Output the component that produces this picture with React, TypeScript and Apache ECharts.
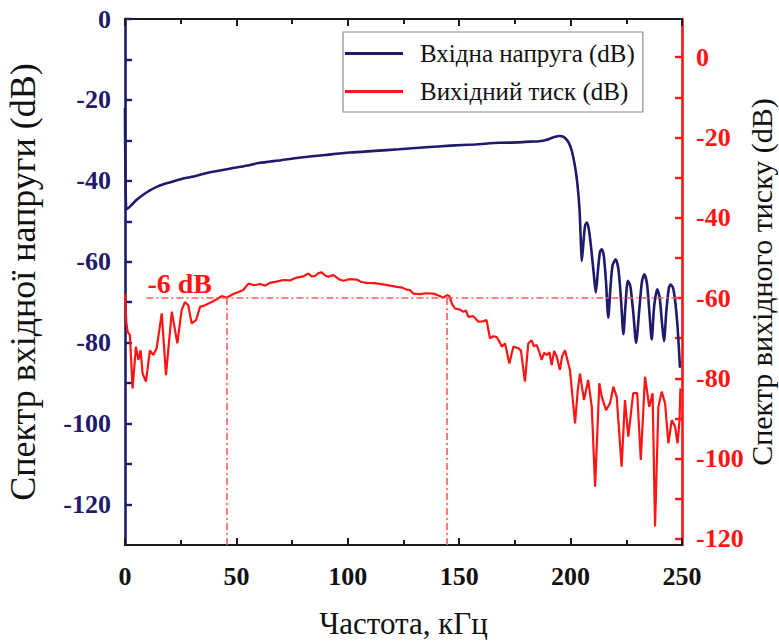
import React, { useEffect, useRef } from 'react';
import * as echarts from 'echarts';

const FONT = '"Liberation Serif", "Times New Roman", serif';
const NAVY = '#1f1a6b';
const RED = '#ff1414';
const DASH_RED = '#ff5a5a';

const seriesNames = ['Вхідна напруга (dB)', 'Вихідний тиск (dB)'];

const inputFreq = [
  0, 0.6, 2, 5, 8, 11, 15, 20, 25, 30, 35, 40, 47, 55, 60, 70, 78, 90, 101, 112, 123, 135, 146, 157, 168, 176,
  182, 186, 189, 192, 195, 197, 199, 200.5, 202, 203, 204, 204.6, 205, 205.8, 206.5, 207.3, 208.2, 209.3, 210.4,
  211.3, 212.3, 213.2, 214, 214.9, 215.9, 216.9, 217.8, 218.8, 220.2, 221.5, 222.7, 223.7, 224.6, 225.7, 226.8,
  228.2, 229.4, 230.8, 232, 233.1, 234.3, 235.3, 236.4, 237.5, 238.9, 240, 241, 241.9, 243, 244.1, 244.9, 246,
  247, 248, 249.1,
];
const inputDb = [
  -22, -47, -46.5, -44.8, -43.5, -42.4, -41.3, -40.4, -39.6, -39, -38.3, -37.7, -37, -36.2, -35.6, -34.9, -34.3,
  -33.6, -33, -32.6, -32.2, -31.7, -31.3, -31, -30.6, -30.5, -30.3, -30.2, -29.9, -29.3, -28.9, -29.2, -30.4,
  -32.5, -36.5, -40.5, -47, -55, -59.8, -55, -51, -50.3, -52, -57, -63, -67.6, -62, -57.5, -56.9, -58.5, -65,
  -73.8, -67, -61, -59.4, -62, -70, -77.9, -71, -64.7, -66, -73, -80, -72, -65, -63.1, -65.5, -72, -79.2, -71,
  -66.8, -69, -75, -79.6, -72, -66.5, -65.6, -66.5, -70, -76, -86.2,
];

const outputFreq = [
  0, 0.6, 1.2, 2.2, 3.4, 4.9, 6.0, 7.0, 7.9, 9.4, 11.2, 12.7, 14.2, 16.5, 18.4, 21, 23.5, 25.4, 26.9, 28.4, 29.9,
  31.9, 33.7, 35.9, 38.9, 41.2, 43.4, 45.6, 48.6, 50.9, 53.1, 55.4, 58, 60.6, 63, 65.1, 68, 71.1, 74, 77.1, 80,
  82.3, 83.8, 85.3, 86.8, 88.3, 89.8, 91.2, 93.5, 96, 98, 101, 104, 106, 108.5, 112, 115.9, 119, 122, 124.5,
  126.4, 127.9, 129.4, 132.4, 135, 138.4, 140.5, 142.9, 144.5, 145.6, 146.8, 148.1, 150, 151.9, 153, 154.1,
  156.3, 158.6, 160.5, 162.3, 163.8, 165.3, 166.8, 168, 169.1, 170.6, 172.5, 174.3, 176.5, 177.7, 179.5, 181,
  182.5, 183.5, 184.8, 186, 187, 188.2, 189.3, 190.5, 191.5, 192.6, 193.8, 195.2, 196.2, 197.5, 199.7, 202,
  203.2, 204.2, 206, 207.9, 209.5, 211, 212.9, 214, 215.9, 217.7, 219.2, 220.7, 222.9, 224.4, 225.9, 228.1,
  229.9, 231.5, 233.4, 235.3, 236.8, 237.9, 239.4, 240.9, 242.4, 243.9, 245.4, 246.9, 248, 248.9, 249.3,
];
const outputDb = [
  -59, -66, -68.5, -69.2, -82.5, -72.1, -75.4, -73, -78.8, -80.8, -73, -74.2, -72.5, -63.8, -79.2, -63.4, -71.3,
  -63, -61, -61.8, -66.3, -65.5, -62.2, -61.8, -61, -60.3, -59.5, -59.9, -59, -58.5, -58, -56.4, -56.8, -56.5,
  -56.9, -56.2, -55.9, -55.5, -55.6, -54.9, -54.6, -53.9, -54.6, -54.5, -53.8, -53.6, -54.4, -54.7, -54.3, -55.3,
  -55.7, -55.3, -55.4, -56, -56.2, -56.3, -56.6, -56.9, -57.2, -57.4, -57.9, -58, -58.9, -59, -58.8, -58.9,
  -59.3, -59.9, -59.3, -59.5, -61.5, -62.6, -62.8, -63.4, -63.1, -64.7, -64.5, -65.9, -65.8, -65.5, -70, -69.5,
  -69.7, -70.8, -72.1, -71.3, -76.3, -72.1, -72.5, -73, -80.8, -71.3, -70.5, -72, -71.7, -73.5, -75.4, -73.6,
  -74.2, -73.5, -76.7, -73.2, -74.6, -77.9, -74.5, -73, -77.9, -91.2, -83, -78.8, -85.4, -80.4, -87.1, -107,
  -81.2, -84.6, -87.9, -86.2, -82.1, -84.6, -102, -85.4, -94.5, -83.7, -83.7, -100.3, -79.6, -87.1, -83.7,
  -116.9, -87.1, -83.3, -86.2, -96.2, -90.4, -92, -96.2, -90.4, -82.5,
];

const xTicks = [0, 50, 100, 150, 200, 250];
const leftLabels = [-120, -100, -80, -60, -40, -20, 0];
const leftTicks = [-120, -110, -100, -90, -80, -70, -60, -50, -40, -30, -20, -10, 0];
const rightLabels = [-120, -100, -80, -60, -40, -20, 0];
const rightTicks = [-120, -110, -100, -90, -80, -70, -60, -50, -40, -30, -20, -10, 0];

// -6 dB level (right axis) and band edges in kHz
const levelDb = -60;
const levelStart = 9.6;
const bandEdges = [45.6, 144.5];

const LEFT_MIN = -130;
const LEFT_MAX = 0;
const RIGHT_MIN = -121.5;
const RIGHT_MAX = 9.5;

const zip = (a: number[], b: number[]) => a.map((v, i) => [v, b[i]]);

export default function App() {
  const ref = useRef<HTMLDivElement>(null);

  useEffect(() => {
    if (!ref.current) return;
    const chart = echarts.init(ref.current, null, { renderer: 'svg' });

    const xCommon = {
      type: 'value',
      min: xTicks[0],
      max: xTicks[xTicks.length - 1],
      interval: 50,
      splitLine: { show: false },
      axisLine: { show: true, onZero: false, lineStyle: { color: '#1a1a1a', width: 2 } },
      axisTick: { show: true, inside: true, length: 7, lineStyle: { color: '#1a1a1a', width: 2 } },
      minorTick: { show: true, splitNumber: 2, length: 5, lineStyle: { color: '#1a1a1a', width: 2 } },
    };

    const option: any = {
      animation: false,
      backgroundColor: '#ffffff',
      grid: { left: 125, right: 97, top: 19, bottom: 96, containLabel: false, outerBoundsMode: 'none' },
      legend: {
        data: seriesNames,
        orient: 'vertical',
        align: 'left',
        left: 343,
        top: 32,
        padding: [9, 8, 8, 2],
        itemGap: 13,
        icon: 'rect',
        itemWidth: 58,
        itemHeight: 3,
        backgroundColor: '#ffffff',
        borderColor: '#8a8a8a',
        borderWidth: 1.2,
        textStyle: { fontFamily: FONT, fontSize: 25, color: '#111', padding: [0, 0, 0, 12], lineHeight: 25 },
      },
      xAxis: [
        {
          ...xCommon,
          position: 'bottom',
          axisLabel: { show: true, fontFamily: FONT, fontSize: 26, fontWeight: 'bold', color: '#111', margin: 18 },
          name: 'Частота, кГц',
          nameLocation: 'middle',
          nameGap: 63,
          nameMoveOverlap: false,
          nameTextStyle: { fontFamily: FONT, fontSize: 31, color: '#111' },
        },
        {
          ...xCommon,
          position: 'top',
          axisLabel: { show: false },
        },
      ],
      yAxis: [
        {
          type: 'value',
          position: 'left',
          min: LEFT_MIN,
          max: LEFT_MAX,
          splitLine: { show: false },
          axisLine: { show: true, onZero: false, lineStyle: { color: NAVY, width: 2.6 } },
          axisTick: { show: true, inside: true, length: 7, customValues: leftTicks, lineStyle: { color: NAVY, width: 2.4 } },
          axisLabel: {
            show: true,
            customValues: leftLabels,
            fontFamily: FONT,
            fontSize: 26,
            fontWeight: 'bold',
            color: NAVY,
            margin: 14,
          },
          name: 'Спектр вхідної напруги (dB)',
          nameLocation: 'middle',
          nameRotate: 90,
          nameGap: 84,
          nameMoveOverlap: false,
          nameTextStyle: { fontFamily: FONT, fontSize: 36, color: '#111' },
        },
        {
          type: 'value',
          position: 'right',
          min: RIGHT_MIN,
          max: RIGHT_MAX,
          splitLine: { show: false },
          axisLine: { show: true, onZero: false, lineStyle: { color: RED, width: 2.6 } },
          axisTick: { show: true, inside: true, length: 7, customValues: rightTicks, lineStyle: { color: RED, width: 2.4 } },
          axisLabel: {
            show: true,
            customValues: rightLabels,
            fontFamily: FONT,
            fontSize: 26,
            fontWeight: 'bold',
            color: RED,
            margin: 14,
          },
          name: 'Спектр вихідного тиску (dB)',
          nameLocation: 'middle',
          nameRotate: 90,
          nameGap: 64,
          nameMoveOverlap: false,
          nameTextStyle: { fontFamily: FONT, fontSize: 30, color: '#111' },
        },
      ],
      series: [
        {
          name: seriesNames[1],
          type: 'line',
          xAxisIndex: 0,
          yAxisIndex: 1,
          data: zip(outputFreq, outputDb),
          symbol: 'none',
          showSymbol: false,
          lineStyle: { color: RED, width: 2.2 },
          itemStyle: { color: RED },
          z: 3,
          markLine: {
            silent: true,
            symbol: ['none', 'none'],
            lineStyle: { color: DASH_RED, width: 1.6, type: [7, 3, 2, 3] },
            label: { show: false },
            data: [
              [
                {
                  coord: [levelStart, levelDb],
                  label: {
                    show: true,
                    formatter: '-6 dB',
                    position: 'insideStartTop',
                    distance: 1,
                    color: RED,
                    fontFamily: FONT,
                    fontSize: 28,
                    fontWeight: 'bold',
                  },
                },
                { coord: [xTicks[xTicks.length - 1], levelDb] },
              ],
              [{ coord: [bandEdges[0], levelDb] }, { coord: [bandEdges[0], RIGHT_MIN] }],
              [{ coord: [bandEdges[1], levelDb] }, { coord: [bandEdges[1], RIGHT_MIN] }],
            ],
          },
        },
        {
          name: seriesNames[0],
          type: 'line',
          xAxisIndex: 0,
          yAxisIndex: 0,
          data: zip(inputFreq, inputDb),
          symbol: 'none',
          showSymbol: false,
          smooth: 0.25,
          lineStyle: { color: NAVY, width: 2.6 },
          itemStyle: { color: NAVY },
          z: 4,
        },
      ],
    };
    chart.setOption(option);
    return () => chart.dispose();
  }, []);

  return (
    <div
      ref={ref}
      style={{ position: 'absolute', left: 0, top: 0, width: 779, height: 641, background: '#ffffff' }}
    />
  );
}
